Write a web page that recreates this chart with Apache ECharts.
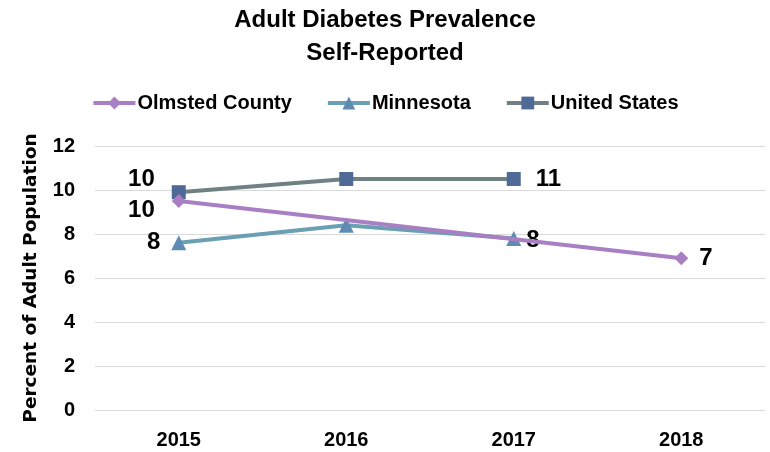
<!DOCTYPE html>
<html>
<head>
<meta charset="utf-8">
<script src="https://cdn.jsdelivr.net/npm/echarts@6/dist/echarts.min.js"></script>
<style>
html,body{margin:0;padding:0;background:#fff;}
#chart{width:770px;height:452px;}
</style>
</head>
<body>
<div id="chart"></div>
<script>
var categories = ['2015', '2016', '2017', '2018'];
var olmsted = [9.5, null, null, 6.9];
var minnesota = [7.6, 8.4, 7.8, null];
var unitedStates = [9.9, 10.5, 10.5, null];
var yTicks = [0, 2, 4, 6, 8, 10, 12];

var NARROW = '"Liberation Sans Narrow", "Arial Narrow", "Liberation Sans", sans-serif';

function withLabels(values, labelCfg) {
  return values.map(function (v, i) {
    var item = { value: v };
    if (labelCfg[i]) item.label = Object.assign({ show: true }, labelCfg[i]);
    return item;
  });
}

var labelBase = {
  formatter: function (p) { return Math.round(p.value); },
  fontFamily: NARROW,
  fontWeight: 'bold',
  fontSize: 24,
  color: '#000'
};

var chart = echarts.init(document.getElementById('chart'), null, { renderer: 'canvas' });
chart.setOption({
  backgroundColor: '#fff',
  title: {
    text: 'Adult Diabetes Prevalence\nSelf-Reported',
    left: 'center',
    top: -1,
    textStyle: { fontFamily: NARROW, fontWeight: 'bold', fontSize: 24, lineHeight: 33, color: '#000' }
  },
  legend: {
    top: 88,
    left: 'center',
    itemWidth: 42,
    itemHeight: 16,
    itemGap: 34,
    lineStyle: { width: 4 },
    textStyle: { fontFamily: NARROW, fontWeight: 'bold', fontSize: 20, color: '#000', padding: [0, 0, 0, -3] },
    data: ['Olmsted County', 'Minnesota', 'United States']
  },
  grid: { left: 95, right: 5, top: 146, bottom: 42 },
  xAxis: {
    type: 'category',
    data: categories,
    boundaryGap: true,
    axisLine: { show: false },
    axisTick: { show: false },
    axisLabel: { fontFamily: NARROW, fontWeight: 'bold', fontSize: 20, color: '#000', margin: 20 }
  },
  yAxis: {
    type: 'value',
    min: yTicks[0],
    max: yTicks[yTicks.length - 1],
    interval: 2,
    name: 'Percent of Adult Population',
    nameLocation: 'middle',
    nameGap: 54,
    nameTextStyle: { fontFamily: 'DejaVu Sans, sans-serif', fontWeight: 'bold', fontSize: 18.5, color: '#000' },
    axisLabel: { fontFamily: NARROW, fontWeight: 'bold', fontSize: 20, color: '#000', margin: 20 },
    splitLine: { lineStyle: { color: '#d9d9d9', width: 1 } }
  },
  series: [
    {
      name: 'Olmsted County',
      type: 'line',
      connectNulls: true,
      symbol: 'diamond',
      symbolSize: 14,
      lineStyle: { color: '#a97fc4', width: 4 },
      itemStyle: { color: '#a97fc4' },
      label: labelBase,
      data: withLabels(olmsted, [
        { position: 'left', offset: [-12, 9] },
        null, null,
        { position: 'right', offset: [6, 0] }
      ]),
      z: 4
    },
    {
      name: 'Minnesota',
      type: 'line',
      symbol: 'triangle',
      symbolSize: 15,
      lineStyle: { color: '#6b9fb3', width: 4 },
      itemStyle: { color: '#5f8bb3' },
      label: labelBase,
      data: withLabels(minnesota, [
        { position: 'left', offset: [-6, 0] },
        null,
        { position: 'right', offset: [0, 2] },
        null
      ]),
      z: 3
    },
    {
      name: 'United States',
      type: 'line',
      symbol: 'rect',
      symbolSize: 14,
      lineStyle: { color: '#6f8182', width: 4 },
      itemStyle: { color: '#4f6a96' },
      label: labelBase,
      data: withLabels(unitedStates, [
        { position: 'left', offset: [-12, -13] },
        null,
        { position: 'right', offset: [10, 0] },
        null
      ]),
      z: 2
    }
  ]
});
</script>
</body>
</html>
